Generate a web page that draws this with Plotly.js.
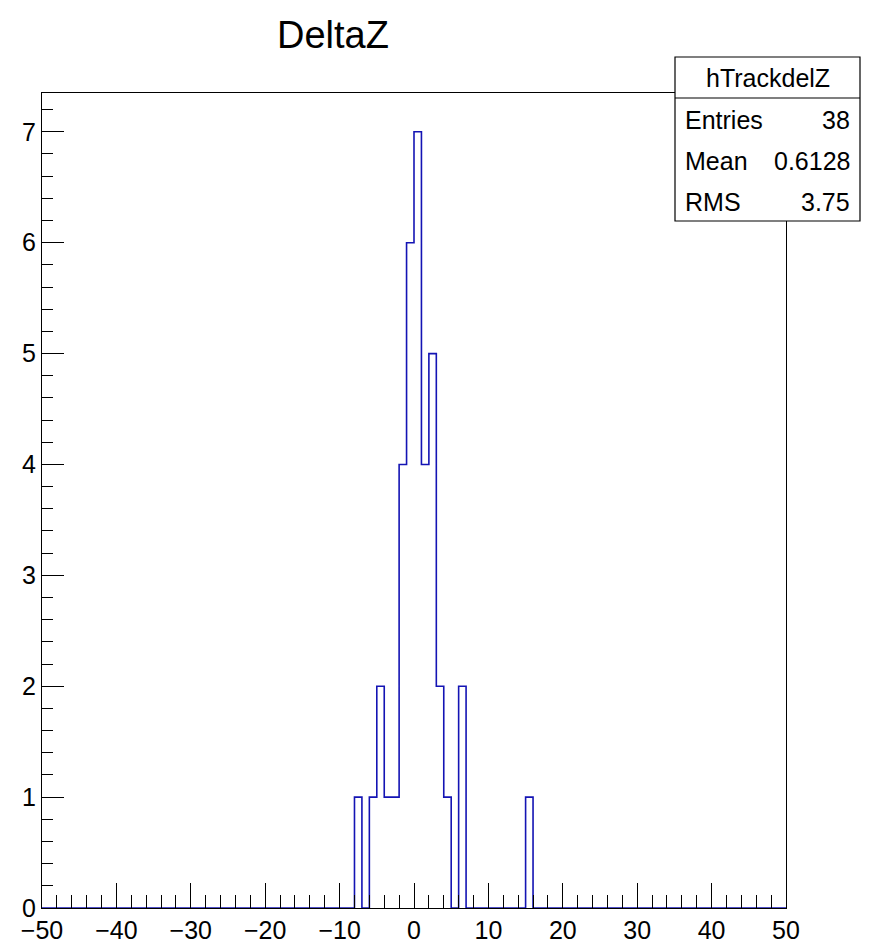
<!DOCTYPE html>
<html>
<head>
<meta charset="utf-8">
<script src="https://cdn.plot.ly/plotly-3.0.1.min.js"></script>
<style>html,body{margin:0;padding:0;background:#fff;}#chart{width:870px;height:946px;}</style>
</head>
<body>
<div id="chart"></div>
<script>
// Histogram definition: 100 bins of width 1 from -50 to 50
const xMin = -50;
const xMax = 50;
const nBins = 100;
// Non-empty bins (lower edge) and their counts
const filledBinLow = [-8, -6, -5, -4, -3, -2, -1, 0, 1, 2, 3, 4, 6, 15];
const filledCounts = [1, 1, 2, 1, 1, 4, 6, 7, 4, 5, 2, 1, 2, 1];
// Stats box
const histName = "hTrackdelZ";
const statLabels = ["Entries", "Mean", "RMS"];
const statValues = ["38", "0.6128", "3.75"];
const titleText = "DeltaZ";

// Build the full bin contents
const binW = (xMax - xMin) / nBins;
const counts = new Array(nBins).fill(0);
filledBinLow.forEach((lo, i) => {
  const idx = Math.round((lo - xMin) / binW);
  counts[idx] = filledCounts[i];
});
const edges = [];
const ys = [];
for (let i = 0; i < nBins; i++) { edges.push(xMin + i * binW); ys.push(counts[i]); }
edges.push(xMax); ys.push(counts[nBins - 1]);

const FONT = '"Liberation Sans", Arial, sans-serif';

const W = 870, H = 946;
const L = 42, R = 786, T = 93, B = 908;

// stats box geometry (container px)
const bx0 = 675, bx1 = 860, by0 = 57, byDiv = 98, by1 = 221;
const shapes = [
  {type: 'rect', xref: 'paper', yref: 'paper', layer: 'above',
   x0: (bx0 - L) / (R - L), x1: (bx1 - L) / (R - L),
   y0: (B - by1) / (B - T), y1: (B - by0) / (B - T),
   fillcolor: '#ffffff', line: {color: '#000', width: 1.2}},
  {type: 'line', xref: 'paper', yref: 'paper', layer: 'above',
   x0: (bx0 - L) / (R - L), x1: (bx1 - L) / (R - L),
   y0: (B - byDiv) / (B - T), y1: (B - byDiv) / (B - T),
   line: {color: '#000', width: 1.2}}
];
const annotations = [
  {text: histName, xref: 'paper', yref: 'paper',
   x: ((bx0 + bx1) / 2 - L) / (R - L), y: (B - (by0 + byDiv) / 2) / (B - T),
   xanchor: 'center', yanchor: 'middle', showarrow: false,
   font: {family: FONT, size: 25, color: '#000'}}
];
const rowY = [120, 161, 202];
statLabels.forEach((lab, i) => {
  annotations.push({text: lab, xref: 'paper', yref: 'paper',
    x: (683 - L) / (R - L), y: (B - rowY[i]) / (B - T),
    xanchor: 'left', yanchor: 'middle', showarrow: false,
    font: {family: FONT, size: 25, color: '#000'}});
  annotations.push({text: statValues[i], xref: 'paper', yref: 'paper',
    x: (852 - L) / (R - L), y: (B - rowY[i]) / (B - T),
    xanchor: 'right', yanchor: 'middle', showarrow: false,
    font: {family: FONT, size: 25, color: '#000'}});
});

const trace = {
  type: 'scatter', mode: 'lines',
  x: edges, y: ys,
  line: {shape: 'hv', color: '#1414b4', width: 1.6},
  hoverinfo: 'skip', cliponaxis: false
};

const layout = {
  width: W, height: H,
  margin: {l: L, r: W - R, t: T, b: H - B, pad: 0},
  paper_bgcolor: '#fff', plot_bgcolor: '#fff',
  showlegend: false,
  title: {text: titleText, x: 333 / W, xref: 'container', xanchor: 'center',
          y: 1 - 35 / H, yref: 'container', yanchor: 'middle',
          font: {family: FONT, size: 38, color: '#000'}},
  xaxis: {
    range: [xMin, xMax], showgrid: false, zeroline: false,
    showline: true, linecolor: '#000', linewidth: 1.2, mirror: true,
    ticks: 'inside', ticklen: 25, tickwidth: 1, tickcolor: '#000',
    tick0: 0, dtick: 10,
    minor: {ticks: 'inside', ticklen: 13, tickwidth: 1, tickcolor: '#000', dtick: 2, tick0: 0, showgrid: false},
    tickfont: {family: FONT, size: 25, color: '#000'}
  },
  yaxis: {
    range: [0, 7.35], showgrid: false, zeroline: false,
    showline: true, linecolor: '#000', linewidth: 1.2, mirror: true,
    ticks: 'inside', ticklen: 22, tickwidth: 1, tickcolor: '#000',
    tick0: 0, dtick: 1,
    minor: {ticks: 'inside', ticklen: 11, tickwidth: 1, tickcolor: '#000', dtick: 0.2, tick0: 0, showgrid: false},
    tickfont: {family: FONT, size: 25, color: '#000'}
  },
  shapes: shapes,
  annotations: annotations
};

Plotly.newPlot('chart', [trace], layout, {staticPlot: true, displayModeBar: false});
</script>
</body>
</html>
